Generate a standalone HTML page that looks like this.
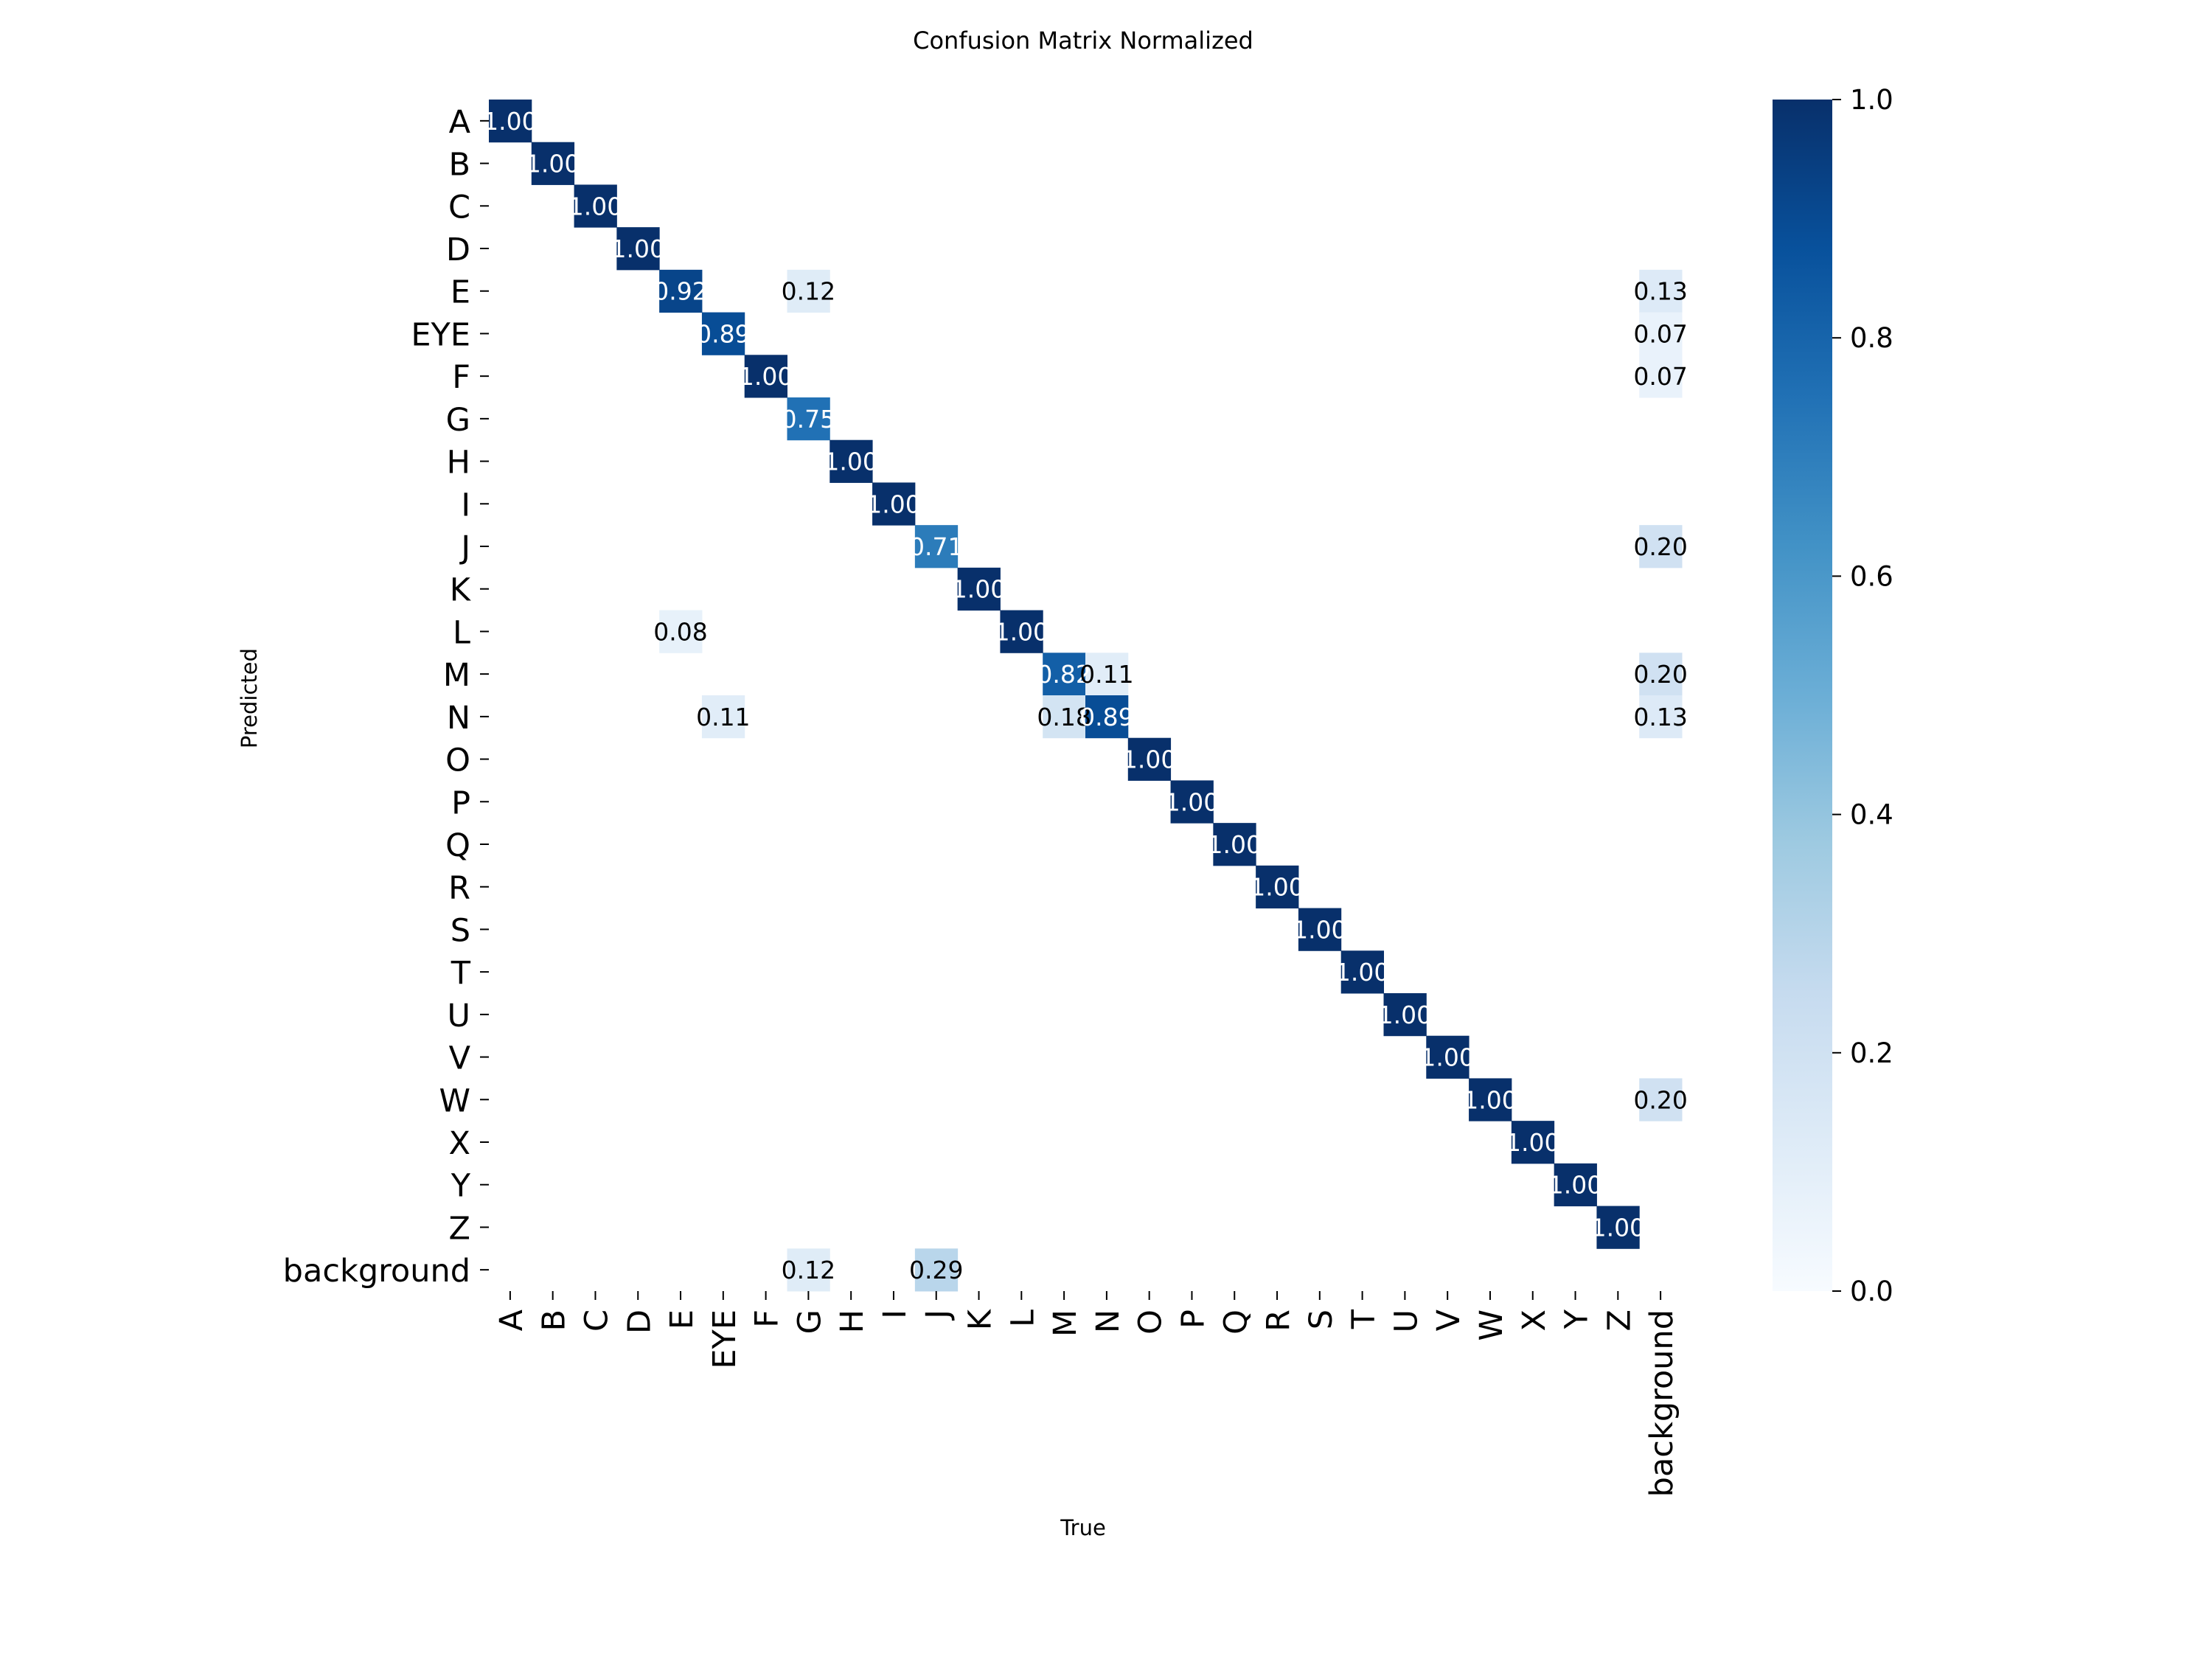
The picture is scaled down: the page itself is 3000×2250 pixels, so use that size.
<!DOCTYPE html>
<html><head><meta charset="utf-8"><style>
html,body{margin:0;padding:0;background:#fff;}
svg{display:block;font-family:"DejaVu Sans","Liberation Sans",sans-serif;}
</style></head><body>
<svg id="chart" width="3000" height="2250" viewBox="0 0 3000 2250" xmlns="http://www.w3.org/2000/svg">
<rect width="3000" height="2250" fill="#fff"/>
<text x="1469" y="66" font-size="32" text-anchor="middle">Confusion Matrix Normalized</text>
<text x="1469" y="2082" font-size="29" text-anchor="middle">True</text>
<text x="348" y="947" font-size="29" text-anchor="middle" transform="rotate(-90 348 947)">Predicted</text>
<g id="cells"></g><g id="yticks"></g><g id="xticks"></g><g id="cbar"></g>
</svg>
<script>
const labels = ["A","B","C","D","E","EYE","F","G","H","I","J","K","L","M","N","O","P","Q","R","S","T","U","V","W","X","Y","Z","background"];
// nonzero cells: [predictedRow, trueCol, value]
const cellRows = ["A","B","C","D","E","E","E","EYE","EYE","F","F","G","H","I","J","J","K","L","L","M","M","M","N","N","N","N","O","P","Q","R","S","T","U","V","W","W","X","Y","Z","background","background"];
const cellCols = ["A","B","C","D","E","G","background","EYE","background","F","background","G","H","I","J","background","K","E","L","M","N","background","EYE","M","N","background","O","P","Q","R","S","T","U","V","W","background","X","Y","Z","G","J"];
const cellVals = [1,1,1,1,0.92,0.12,0.13,0.89,0.07,1,0.07,0.75,1,1,0.71,0.20,1,0.08,1,0.82,0.11,0.20,0.11,0.18,0.89,0.13,1,1,1,1,1,1,1,1,1,0.20,1,1,1,0.12,0.29];
const cbarTicks = [0,0.2,0.4,0.6,0.8,1.0];

const NS="http://www.w3.org/2000/svg";
const L=663, T=135, W=2281-663, H=1751-135, n=labels.length, cw=W/n, ch=H/n;
const xPos=i=>L+i*cw, yPos=i=>T+i*ch;
const blues=[[247,251,255],[222,235,247],[198,219,239],[158,202,225],[107,174,214],[66,146,198],[33,113,181],[8,81,156],[8,48,107]];
function cmap(v){v=Math.max(0,Math.min(1,v));const p=v*8,i=Math.min(7,Math.floor(p)),f=p-i;const a=blues[i],b=blues[i+1];
 return `rgb(${a.map((c,k)=>Math.round(c+(b[k]-c)*f)).join(",")})`;}
function el(t,attrs,parent,txt){const e=document.createElementNS(NS,t);for(const k in attrs)e.setAttribute(k,attrs[k]);if(txt!==undefined)e.textContent=txt;parent.appendChild(e);return e;}
const gc=document.getElementById("cells");
cellVals.forEach((v,i)=>{
 const r=labels.indexOf(cellRows[i]), c=labels.indexOf(cellCols[i]);
 const rc=el("rect",{x:xPos(c),y:yPos(r),width:cw+0.5,height:ch+0.5,fill:cmap(v)},gc);
 
 
});
cellVals.forEach((v,i)=>{
 const r=labels.indexOf(cellRows[i]), c=labels.indexOf(cellCols[i]);
 const t=el("text",{x:xPos(c)+cw/2,y:yPos(r)+ch/2+12,"font-size":33,"text-anchor":"middle",fill:v>0.5?"#fff":"#000"},gc,v.toFixed(2));
 
 
});
const gy=document.getElementById("yticks"), gx=document.getElementById("xticks");
labels.forEach((lab,i)=>{
 const y=yPos(i)+ch/2;
 el("line",{x1:651,x2:663,y1:y,y2:y,stroke:"#000","stroke-width":2},gy);
 const t=el("text",{x:638,y:y+16,"font-size":43,"text-anchor":"end"},gy,lab);
 
 
 const x=xPos(i)+cw/2;
 el("line",{x1:x,x2:x,y1:T+H,y2:T+H+12,stroke:"#000","stroke-width":2},gx);
 const tx=el("text",{x:x+16,y:T+H+25,"font-size":43,"text-anchor":"end",transform:`rotate(-90 ${x+16} ${T+H+25})`},gx,lab);
 
 
});
const gb=document.getElementById("cbar");
const CX=2404, CW=81, CT=135, CH=1616;
const defs=el("defs",{},gb), grad=el("linearGradient",{id:"bl",x1:0,y1:1,x2:0,y2:0},defs);
for(let k=0;k<=8;k++) el("stop",{offset:k/8,"stop-color":cmap(k/8)},grad);
const cb=el("rect",{x:CX,y:CT,width:CW,height:CH,fill:"url(#bl)"},gb);


cbarTicks.forEach(v=>{
 const y=CT+CH*(1-v);
 el("line",{x1:CX+CW,x2:CX+CW+12,y1:y,y2:y,stroke:"#000","stroke-width":2},gb);
 const t=el("text",{x:CX+CW+24,y:y+13,"font-size":37},gb,v.toFixed(1));
 
 
});
</script>
</body></html>
